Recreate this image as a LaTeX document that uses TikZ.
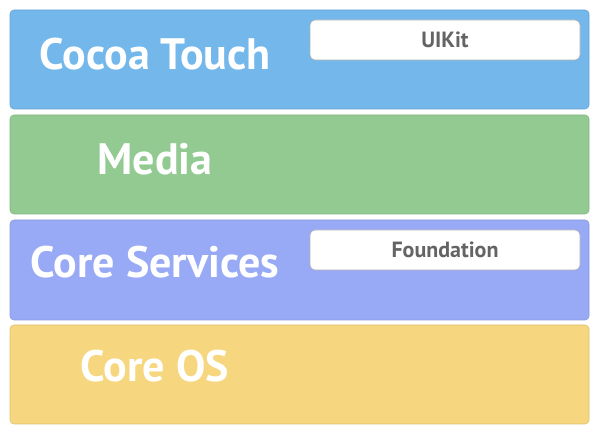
\documentclass[tikz,border=0pt]{standalone}
\usepackage{fontspec}
\setmainfont{PT Sans}
\definecolor{cblue}{RGB}{116,183,235}
\definecolor{cgreen}{RGB}{146,202,146}
\definecolor{cpurple}{RGB}{152,170,245}
\definecolor{cyellow}{RGB}{246,214,126}
\definecolor{ctext}{RGB}{100,100,100}
\begin{document}
\begin{tikzpicture}[x=1pt,y=1pt,
  layer/.style={rectangle,rounded corners=4pt,minimum width=579pt,minimum height=99pt,inner sep=0pt,draw=#1!90!black,line width=0.6pt,fill=#1},
  lib/.style={rectangle,rounded corners=5pt,minimum width=270pt,minimum height=40pt,inner sep=0pt,fill=white,draw=black!30,line width=0.6pt},
  big/.style={anchor=base,text=white,font=\fontsize{44}{50}\selectfont\bfseries,inner sep=0pt},
  small/.style={anchor=base,text=ctext,font=\fontsize{22}{26}\selectfont\bfseries,inner sep=0pt}]
\useasboundingbox (0,0) rectangle (600,435);
\fill[white] (0,0) rectangle (600,435);
\node[layer=cblue]   (l1) at (299.5,375.5) {};
\node[layer=cgreen]  (l2) at (299.5,270.5) {};
\node[layer=cpurple, minimum height=100pt] (l3) at (299.5,165) {};
\node[layer=cyellow] (l4) at (299.5,60.5) {};
\node[lib] (uikit) at (445,395) {};
\node[lib] (found) at (445,185) {};
\node[big] (t1) at (155,365) {Cocoa Touch};
\node[big] (t2) at (155,260) {Media};
\node[big] (t3) at (155,157) {Core Services};
\node[big] (t4) at (155,53) {Core OS};
\node[small] (t5) at (445,387) {UIKit};
\node[small] (t6) at (445,177) {Foundation};
\end{tikzpicture}
\end{document}
